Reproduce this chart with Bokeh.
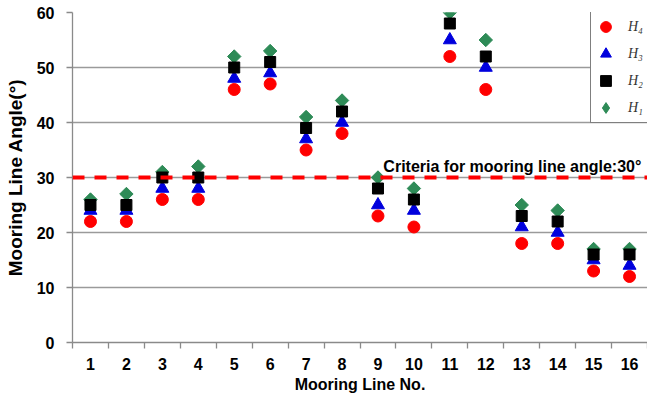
import math
from bokeh.plotting import figure
from bokeh.models import (Legend, LegendItem, FixedTicker, Span, Label, Range1d,
                          ColumnDataSource)
from bokeh.embed import file_html
from bokeh.resources import INLINE

lines = list(range(1, 17))
h4 = [22, 22, 26, 26, 46, 47, 35, 38, 23, 21, 52, 46, 18, 18, 13, 12]
h3 = [24, 24, 28, 28, 48, 49, 37, 40, 25, 24, 55, 50, 21, 20, 15, 14]
h2 = [25, 25, 30, 30, 50, 51, 39, 42, 28, 26, 58, 52, 23, 22, 16, 16]
h1 = [26, 27, 31, 32, 52, 53, 41, 44, 30, 28, 60, 55, 25, 24, 17, 17]
criteria = 30
y_ticks = [0, 10, 20, 30, 40, 50, 60]

FONT = "Liberation Sans"

p = figure(width=647, height=397, output_backend="svg", toolbar_location=None,
           x_range=Range1d(0.5, 16.5), y_range=Range1d(0, 60),
           min_border_left=72, min_border_right=0, min_border_top=12, min_border_bottom=55)
p.outline_line_color = None
p.background_fill_color = "white"

# grid
p.xgrid.grid_line_color = None
p.ygrid.grid_line_color = "#9a9a9a"
p.ygrid.grid_line_width = 1.3

# axes
p.xaxis.ticker = FixedTicker(ticks=lines, minor_ticks=[i + 0.5 for i in range(0, 17)])
p.yaxis.ticker = FixedTicker(ticks=y_ticks)
for ax in (p.xaxis[0], p.yaxis[0]):
    ax.axis_line_color = "#8a8a8a"
    ax.axis_line_width = 1.3
    ax.major_label_text_font = FONT
    ax.major_label_text_font_style = "bold"
    ax.major_label_text_font_size = "16px"
    ax.major_label_text_color = "black"
    ax.axis_label_text_font = FONT
    ax.axis_label_text_font_style = "bold"
    ax.axis_label_text_color = "black"
p.xaxis.axis_label_text_font_size = "16px"
p.yaxis.axis_label_text_font_size = "19px"
p.xaxis.major_tick_line_color = None
p.xaxis.major_tick_out = 6
p.xaxis.minor_tick_line_color = "#8a8a8a"
p.xaxis.minor_tick_line_width = 1.3
p.xaxis.minor_tick_out = 6
p.xaxis.minor_tick_in = 0
p.xaxis.major_label_standoff = 9
p.xaxis.axis_label = "Mooring Line No."
p.xaxis.axis_label_standoff = 3

p.yaxis.major_tick_line_color = "#8a8a8a"
p.yaxis.major_tick_line_width = 1.3
p.yaxis.major_tick_out = 6
p.yaxis.major_tick_in = 0
p.yaxis.minor_tick_line_color = None
p.yaxis.major_label_standoff = 12
p.yaxis.axis_label = "Mooring Line Angle(°)"
p.yaxis.axis_label_standoff = 8

# criteria line
span = Span(location=criteria, dimension="width", line_color="#ff0000",
            line_width=4, line_dash="12 10")
p.add_layout(span)
lab = Label(x=9.15, y=criteria, y_offset=3, text="Criteria for mooring line angle:30°",
            text_font=FONT, text_font_style="bold", text_font_size="16px",
            text_color="black", text_baseline="bottom")
p.add_layout(lab)

src1 = ColumnDataSource(data=dict(x=lines, y=h1))
# diamond used as the legend swatch; it sits fully under the rotated square below
r1_leg = p.scatter("x", "y", source=src1, marker="diamond", size=12,
                   fill_color="#2e8b57", line_color="#2e8b57")
r1 = p.scatter("x", "y", source=src1, marker="square", angle=math.pi / 4, size=9.5,
               fill_color="#2e8b57", line_color="#2e8b57")
r3 = p.scatter(lines, h3, marker="triangle", size=13, fill_color="#0000dd", line_color="#0000dd")
r2 = p.scatter(lines, h2, marker="square", size=11, fill_color="black", line_color="black")
r4 = p.scatter(lines, h4, marker="circle", size=12, fill_color="#ff0000", line_color="#ff0000")

legend = Legend(items=[LegendItem(label="H₄", renderers=[r4]),
                       LegendItem(label="H₃", renderers=[r3]),
                       LegendItem(label="H₂", renderers=[r2]),
                       LegendItem(label="H₁", renderers=[r1_leg])],
                location=(518, 219))
legend.glyph_width = 27
legend.glyph_height = 27
legend.spacing = 0
legend.padding = 1
legend.margin = 0
legend.label_width = 40
legend.label_text_font = "Liberation Serif"
legend.label_text_font_style = "italic"
legend.label_text_font_size = "14px"
legend.label_text_color = "#333333"
legend.border_line_color = "black"
legend.border_line_width = 1
legend.background_fill_color = "white"
legend.background_fill_alpha = 1
legend.label_standoff = 9
p.add_layout(legend)

open("out.html", "w").write(file_html(p, INLINE))
